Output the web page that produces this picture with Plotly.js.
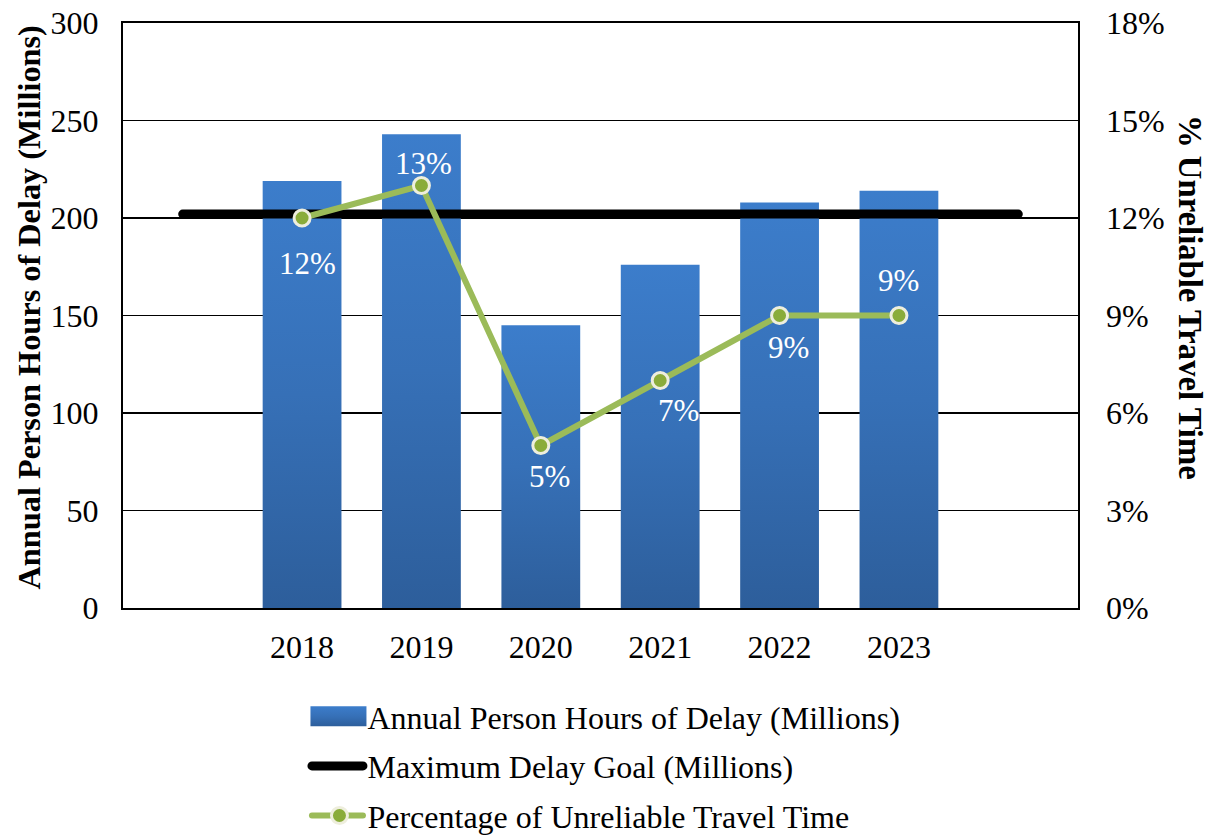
<!DOCTYPE html>
<html>
<head>
<meta charset="utf-8">
<script src="https://cdn.plot.ly/plotly-3.0.1.min.js"></script>
<style>
  html, body { margin: 0; padding: 0; background: #ffffff; }
  #chart { width: 1214px; height: 838px; }
</style>
</head>
<body>
<div id="chart"></div>
<script>
// ---- data ----
const allCategories = [' ', '2018', '2019', '2020', '2021', '2022', '2023', '  '];
const years = ['2018', '2019', '2020', '2021', '2022', '2023'];
const delayHours = [219, 243, 145, 176, 208, 214];          // millions
const maxDelayGoal = 202;                                   // millions
const unreliablePct = [12, 13, 5, 7, 9, 9];                 // percent
const pctLabels = ['12%', '13%', '5%', '7%', '9%', '9%'];
const seriesNames = [
  'Annual Person Hours of Delay (Millions)',
  'Maximum Delay Goal (Millions)',
  'Percentage of Unreliable Travel Time'
];
const leftAxisTitle = 'Annual Person Hours of Delay (Millions)';
const rightAxisTitle = '% Unreliable Travel Time';
const leftTicks = [0, 50, 100, 150, 200, 250, 300];
const rightTicks = [0, 3, 6, 9, 12, 15, 18];
const rightTickText = ['0%', '3%', '6%', '9%', '12%', '15%', '18%'];

// label placement (style only)
const labelShiftY = [-45, 22, -31, -30, -32, 35];
const labelShiftX = [5, 2, 9, 18, 9, 0];

const FONT = 'Liberation Serif, Times New Roman, serif';

const traces = [
  {
    type: 'bar', name: seriesNames[0], x: years, y: delayHours,
    marker: { color: '#3570b8', line: { width: 0 } },
    width: 0.66, legendgroup: 'a', hoverinfo: 'x+y'
  },
  {
    type: 'scatter', mode: 'lines', name: seriesNames[1],
    x: allCategories, y: allCategories.map(() => maxDelayGoal),
    line: { color: '#000000', width: 9 }, legendgroup: 'b'
  },
  {
    type: 'scatter', mode: 'lines+markers', name: seriesNames[2],
    x: years, y: unreliablePct, yaxis: 'y2',
    line: { color: '#9bbb59', width: 6 },
    marker: { size: 16, color: '#8aac3a', line: { color: '#eeeedd', width: 3 } },
    legendgroup: 'c'
  }
];

const annotations = years.map((yr, i) => ({
  x: allCategories.indexOf(yr), y: unreliablePct[i], xref: 'x', yref: 'y2',
  text: pctLabels[i], showarrow: false,
  xshift: labelShiftX[i], yshift: labelShiftY[i],
  font: { family: FONT, size: 31, color: '#ffffff' }
}));
annotations.push({
  xref: 'paper', yref: 'paper', x: -0.0974, y: 0.5137,
  text: '<b>' + leftAxisTitle + '</b>', textangle: -90, showarrow: false,
  xanchor: 'center', yanchor: 'middle',
  font: { family: FONT, size: 32.3, color: '#000000' }
});
annotations.push({
  xref: 'paper', yref: 'paper', x: 1.1173, y: 0.5316,
  text: '<b>' + rightAxisTitle + '</b>', textangle: 90, showarrow: false,
  xanchor: 'center', yanchor: 'middle',
  font: { family: FONT, size: 32.7, color: '#000000' }
});

const layout = {
  width: 1214, height: 838,
  margin: { l: 123, r: 136, t: 23, b: 230, autoexpand: false },
  paper_bgcolor: '#ffffff', plot_bgcolor: '#ffffff',
  font: { family: FONT, size: 32, color: '#000000' },
  showlegend: true,
  xaxis: {
    type: 'category', categoryorder: 'array', categoryarray: allCategories,
    range: [-0.5, allCategories.length - 0.5],
    showgrid: false, zeroline: false,
    showline: true, mirror: true, linecolor: '#000000', linewidth: 2,
    ticks: '', ticklen: 0, ticklabelstandoff: 10, tickfont: { family: FONT, size: 32 },
    automargin: false
  },
  yaxis: {
    range: [0, 300], tickvals: leftTicks,
    showgrid: true, gridcolor: '#000000', gridwidth: 1.5,
    zeroline: false, showline: true, mirror: true, linecolor: '#000000', linewidth: 2,
    ticks: 'outside', ticklen: 16, tickcolor: 'rgba(0,0,0,0)',
    tickfont: { family: FONT, size: 32 },
    automargin: false
  },
  yaxis2: {
    overlaying: 'y', side: 'right', range: [0, 18],
    tickvals: rightTicks, ticktext: rightTickText,
    showgrid: false, zeroline: false, showline: false, ticks: '',
    ticklabelstandoff: 27, tickfont: { family: FONT, size: 32 },
    automargin: false
  },
  legend: {
    orientation: 'v', x: 0.5031, xanchor: 'center', y: -0.1385, yanchor: 'top',
    traceorder: 'grouped', tracegroupgap: 5, itemwidth: 56,
    font: { family: FONT, size: 32, color: '#000000' },
    bgcolor: 'rgba(0,0,0,0)'
  },
  annotations: annotations
};

Plotly.newPlot('chart', traces, layout, { displayModeBar: false, staticPlot: true }).then(gd => {
  // vertical gradient on bars (lighter top, darker bottom)
  const svg = gd.querySelector('.main-svg');
  const ns = 'http://www.w3.org/2000/svg';
  const defs = document.createElementNS(ns, 'defs');
  const grad = document.createElementNS(ns, 'linearGradient');
  grad.setAttribute('id', 'barGrad');
  grad.setAttribute('x1', '0'); grad.setAttribute('y1', '0');
  grad.setAttribute('x2', '0'); grad.setAttribute('y2', '1');
  [['0', '#3c7dcb'], ['0.5', '#3670b7'], ['1', '#2d5e9b']].forEach(([o, c]) => {
    const s = document.createElementNS(ns, 'stop');
    s.setAttribute('offset', o); s.setAttribute('stop-color', c);
    grad.appendChild(s);
  });
  defs.appendChild(grad);
  svg.insertBefore(defs, svg.firstChild);
  gd.querySelectorAll('.bars .point path').forEach(p => { p.style.fill = 'url(#barGrad)'; });

  // rounded ends on the goal line
  gd.querySelectorAll('.scatterlayer .trace path.js-line').forEach(p => { p.style.strokeLinecap = 'round'; });

  // do not clip the legend at the page edge
  gd.querySelectorAll('.legend .scrollbox, .legend').forEach(g => g.removeAttribute('clip-path'));
  gd.querySelectorAll('.legend .scrollbar').forEach(s => s.style.display = 'none');

  // wider legend symbols
  const legendItems = gd.querySelectorAll('.legend .traces');
  legendItems.forEach((item, i) => {
    if (i === 0) {
      item.querySelectorAll('.legendpoints path').forEach(p => {
        p.setAttribute('d', 'M-24,10H32V-10H-24Z'); p.style.fill = 'url(#barGrad)';
      });
    } else {
      item.querySelectorAll('.legendlines path').forEach(p => {
        p.setAttribute('d', 'M10.5,0h51'); p.style.strokeLinecap = 'round';
      });
      item.querySelectorAll('.legendpoints path.scatterpts').forEach(p => {
        p.setAttribute('transform', 'translate(38,0)');
      });
    }
  });
});
</script>
</body>
</html>
